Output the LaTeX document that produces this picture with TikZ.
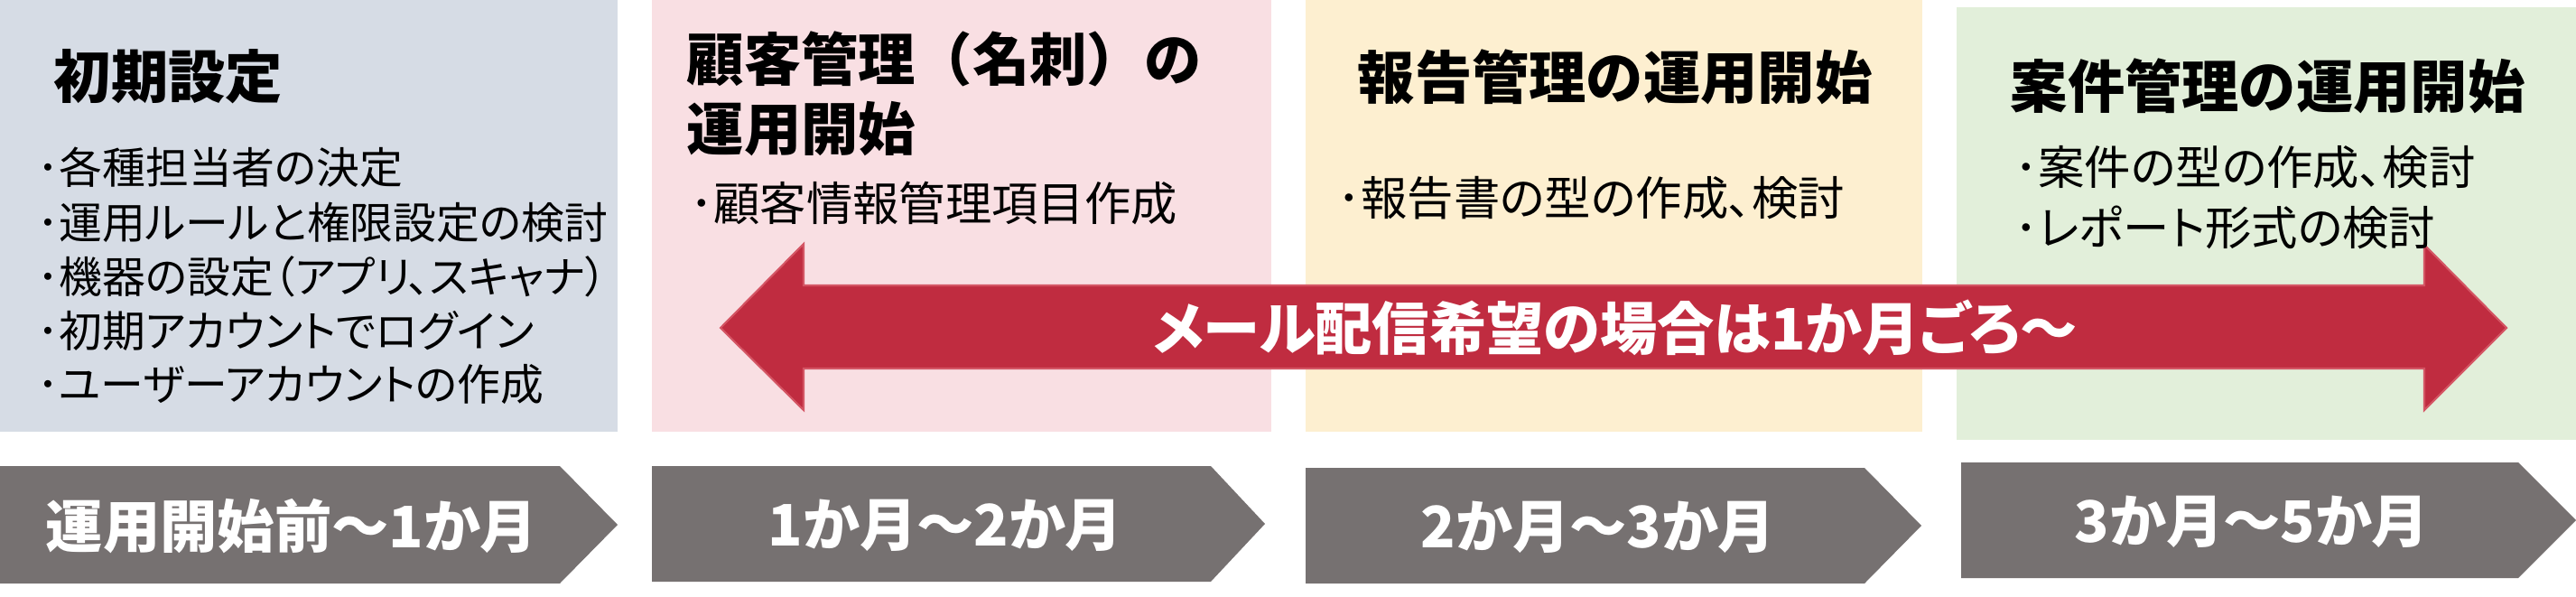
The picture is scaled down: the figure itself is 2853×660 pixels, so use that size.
\documentclass[tikz,border=0pt]{standalone}
\usepackage{fontspec}
\setmainfont{Noto Sans CJK JP}[RawFeature=+palt]
\newfontfamily\titlefont{Noto Sans CJK JP}
\definecolor{cBlue}{HTML}{D6DCE5}
\definecolor{cPink}{HTML}{F9DFE3}
\definecolor{cYellow}{HTML}{FDEFD0}
\definecolor{cGreen}{HTML}{E2EFDA}
\definecolor{cRed}{HTML}{C02C40}
\definecolor{cRedEdge}{HTML}{D45564}
\definecolor{cGray}{HTML}{767171}
\begin{document}
\begin{tikzpicture}[x=0.01cm,y=-0.01cm,
  title/.style={font=\titlefont\bfseries\fontsize{18pt}{22pt}\selectfont, anchor=west, inner sep=0pt},
  itemA/.style={font=\fontsize{13.6pt}{16pt}\selectfont, anchor=west, inner sep=0pt},
  itemB/.style={font=\fontsize{14.6pt}{17pt}\selectfont, anchor=west, inner sep=0pt},
  chevtext/.style={font=\bfseries\fontsize{18pt}{22pt}\selectfont, text=white, anchor=center, inner sep=0pt},
  chevron/.style={fill=cGray, draw=none},
  panel/.style={draw=none}]
\useasboundingbox (0,0) rectangle (2853,660);
% panels
\fill[cBlue]   (0,0) rectangle (684,478);
\fill[cPink]   (722,0) rectangle (1408,478);
\fill[cYellow] (1446,0) rectangle (2129,478);
\fill[cGreen]  (2167,8) rectangle (2853,487);
% chevrons
\fill[chevron] (0,516) -- (620,516) -- (684,581) -- (620,646) -- (0,646) -- cycle;
\fill[chevron] (722,516) -- (1341,516) -- (1401,580) -- (1341,644) -- (722,644) -- cycle;
\fill[chevron] (1446,518) -- (2065,518) -- (2128,582) -- (2065,646) -- (1446,646) -- cycle;
\fill[chevron] (2172,512) -- (2789,512) -- (2853,576) -- (2789,640) -- (2172,640) -- cycle;
% red double arrow
\filldraw[fill=cRed, draw=cRedEdge, line width=0.6pt]
  (798,363) -- (890,270) -- (890,316) -- (2685,316) -- (2685,271)
  -- (2776,363) -- (2685,454) -- (2685,408) -- (890,408) -- (890,454) -- cycle;
\node[chevtext] (arrowtext) at (1789,363) {メール配信希望の場合は1か月ごろ～};
% panel 1
\node[title] (t1) at (59,85) {初期設定};
\node[itemA] (a1) at (41,185) {･各種担当者の決定};
\node[itemA] (a2) at (41,246) {･運用ルールと権限設定の検討};
\node[itemA] (a3) at (41,306) {･機器の設定（アプリ、スキャナ）};
\node[itemA] (a4) at (41,366) {･初期アカウントでログイン};
\node[itemA] (a5) at (41,426) {･ユーザーアカウントの作成};
% panel 2
\node[title] (t2a) at (760,65) {顧客管理（名刺）の};
\node[title] (t2b) at (760,143) {運用開始};
\node[itemB] (b1) at (764,225) {･顧客情報管理項目作成};
% panel 3
\node[title] (t3) at (1503,85) {報告管理の運用開始};
\node[itemB] (c1) at (1481,219) {･報告書の型の作成、検討};
% panel 4
\node[title] (t4) at (2226,95) {案件管理の運用開始};
\node[itemB] (d1) at (2231,185) {･案件の型の作成、検討};
\node[itemB] (d2) at (2231,252) {･レポート形式の検討};
% chevron labels
\node[chevtext] (p1) at (323,583) {運用開始前～1か月};
\node[chevtext] (p2) at (1047,582) {1か月～2か月};
\node[chevtext] (p3) at (1770,584) {2か月～3か月};
\node[chevtext] (p4) at (2494,578) {3か月～5か月};
\end{tikzpicture}
\end{document}
